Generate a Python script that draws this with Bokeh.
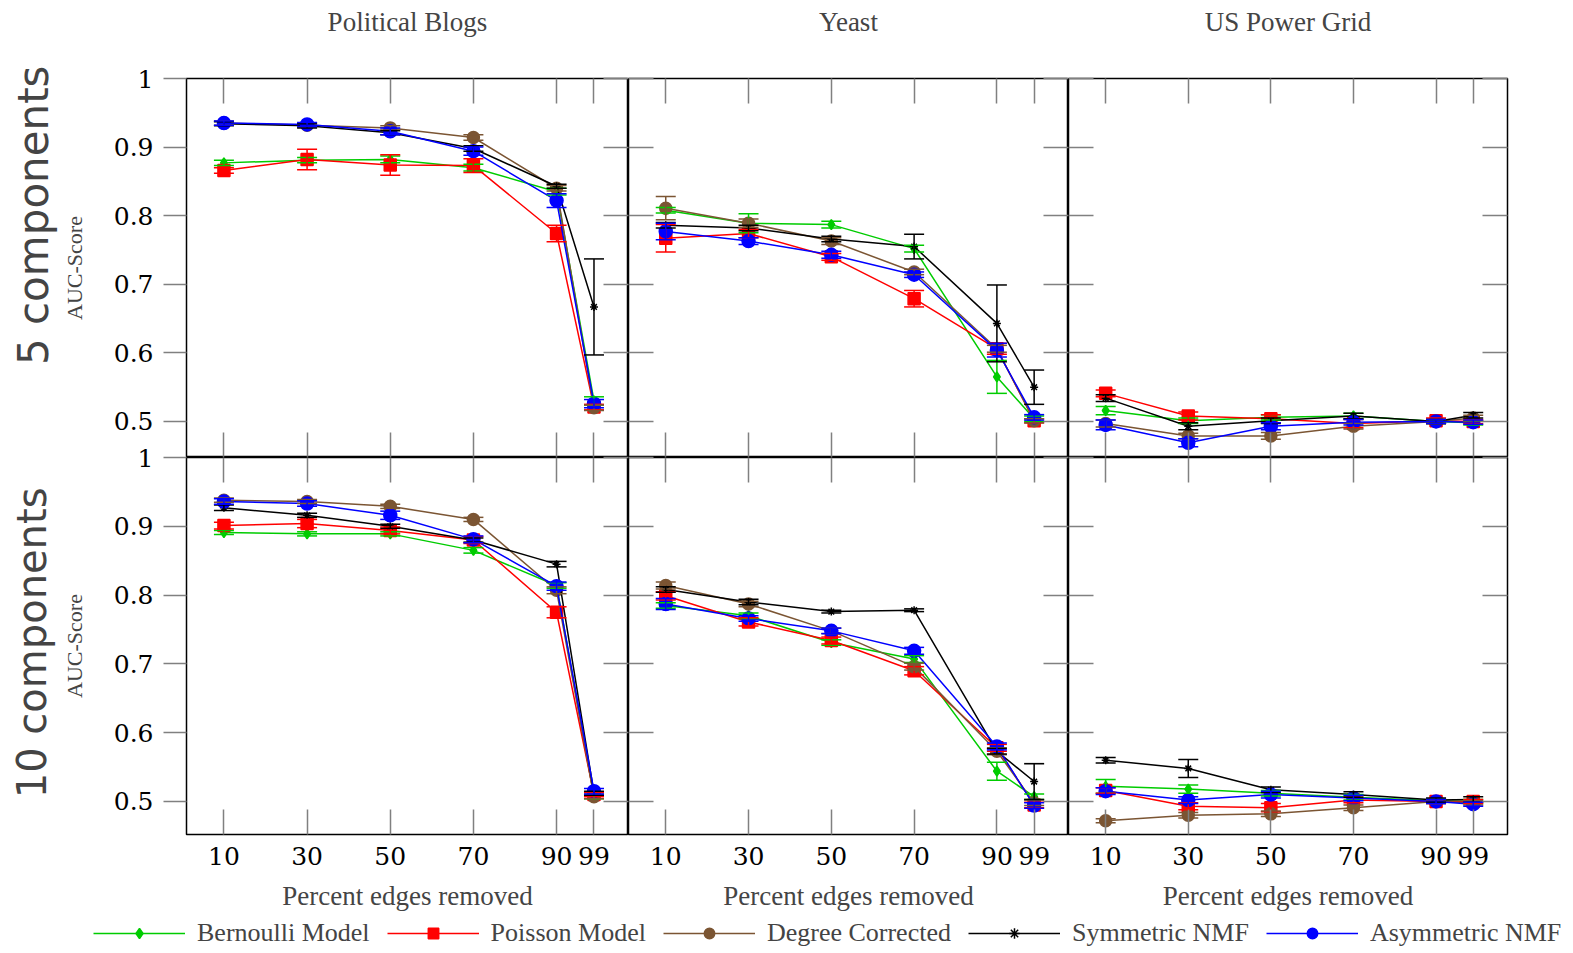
from bokeh.plotting import figure
from bokeh.models import (ColumnDataSource, Whisker, TeeHead, LinearAxis, FixedTicker,
                          Title, Legend, LegendItem, Range1d)
from bokeh.layouts import row, column
from bokeh.embed import file_html
from bokeh.resources import INLINE

# ---------------- data ----------------
pct_removed = [10, 30, 50, 70, 90, 99]
x_ticks = [10, 30, 50, 70, 90, 99]
y_ticks = [0.5, 0.6, 0.7, 0.8, 0.9, 1.0]
y_tick_labels = ["0.5", "0.6", "0.7", "0.8", "0.9", "1"]
datasets = ["Political Blogs", "Yeast", "US Power Grid"]
row_labels = ["5 components", "10 components"]
models = ["Bernoulli Model", "Poisson Model", "Degree Corrected", "Symmetric NMF", "Asymmetric NMF"]

# 5 components - Political Blogs
pb5_bern = [0.877, 0.881, 0.882, 0.870, 0.835, 0.530]
pb5_pois = [0.866, 0.882, 0.874, 0.873, 0.774, 0.521]
pb5_degr = [0.935, 0.932, 0.928, 0.914, 0.840, 0.520]
pb5_symm = [0.934, 0.931, 0.921, 0.898, 0.843, 0.667]
pb5_asym = [0.935, 0.933, 0.923, 0.894, 0.822, 0.526]
pb5_bern_err = [0.004, 0.004, 0.005, 0.005, 0.005, 0.006]
pb5_pois_err = [0.004, 0.015, 0.015, 0.010, 0.012, 0.004]
pb5_degr_err = [0.003, 0.003, 0.003, 0.004, 0.004, 0.004]
pb5_symm_err = [0.003, 0.003, 0.003, 0.004, 0.003, 0.070]
pb5_asym_err = [0.003, 0.003, 0.005, 0.006, 0.010, 0.006]

# 5 components - Yeast
ye5_bern = [0.808, 0.789, 0.787, 0.752, 0.565, 0.504]
ye5_pois = [0.767, 0.774, 0.740, 0.679, 0.606, 0.501]
ye5_degr = [0.811, 0.789, 0.763, 0.718, 0.606, 0.501]
ye5_symm = [0.786, 0.782, 0.766, 0.755, 0.643, 0.550]
ye5_asym = [0.777, 0.763, 0.743, 0.714, 0.604, 0.506]
ye5_bern_err = [0.004, 0.014, 0.005, 0.005, 0.024, 0.004]
ye5_pois_err = [0.020, 0.006, 0.005, 0.012, 0.008, 0.003]
ye5_degr_err = [0.017, 0.006, 0.005, 0.004, 0.005, 0.003]
ye5_symm_err = [0.004, 0.004, 0.004, 0.018, 0.056, 0.025]
ye5_asym_err = [0.012, 0.005, 0.005, 0.004, 0.010, 0.004]

# 5 components - US Power Grid
pg5_bern = [0.516, 0.501, 0.506, 0.508, 0.500, 0.498]
pg5_pois = [0.541, 0.508, 0.504, 0.497, 0.501, 0.500]
pg5_degr = [0.497, 0.479, 0.479, 0.493, 0.500, 0.505]
pg5_symm = [0.534, 0.493, 0.501, 0.508, 0.500, 0.509]
pg5_asym = [0.495, 0.469, 0.493, 0.499, 0.500, 0.499]
pg5_bern_err = [0.006, 0.004, 0.004, 0.004, 0.003, 0.003]
pg5_pois_err = [0.005, 0.006, 0.006, 0.006, 0.004, 0.003]
pg5_degr_err = [0.005, 0.004, 0.005, 0.004, 0.003, 0.004]
pg5_symm_err = [0.005, 0.005, 0.004, 0.004, 0.003, 0.004]
pg5_asym_err = [0.007, 0.006, 0.005, 0.004, 0.003, 0.003]

# 10 components - Political Blogs
pb10_bern = [0.891, 0.889, 0.889, 0.865, 0.814, 0.507]
pb10_pois = [0.901, 0.904, 0.894, 0.880, 0.775, 0.510]
pb10_degr = [0.938, 0.936, 0.929, 0.910, 0.807, 0.507]
pb10_symm = [0.927, 0.916, 0.900, 0.880, 0.845, 0.512]
pb10_asym = [0.936, 0.933, 0.916, 0.881, 0.813, 0.515]
pb10_bern_err = [0.003, 0.003, 0.003, 0.004, 0.004, 0.003]
pb10_pois_err = [0.005, 0.006, 0.005, 0.005, 0.008, 0.003]
pb10_degr_err = [0.003, 0.003, 0.003, 0.003, 0.005, 0.003]
pb10_symm_err = [0.004, 0.003, 0.003, 0.003, 0.004, 0.003]
pb10_asym_err = [0.004, 0.004, 0.006, 0.005, 0.006, 0.004]

# 10 components - Yeast
ye10_bern = [0.785, 0.770, 0.731, 0.707, 0.544, 0.507]
ye10_pois = [0.799, 0.761, 0.734, 0.690, 0.578, 0.495]
ye10_degr = [0.814, 0.787, 0.748, 0.696, 0.573, 0.498]
ye10_symm = [0.808, 0.790, 0.776, 0.778, 0.573, 0.529]
ye10_asym = [0.787, 0.766, 0.748, 0.719, 0.580, 0.494]
ye10_bern_err = [0.004, 0.004, 0.004, 0.005, 0.013, 0.004]
ye10_pois_err = [0.006, 0.006, 0.005, 0.006, 0.005, 0.004]
ye10_degr_err = [0.005, 0.004, 0.004, 0.005, 0.005, 0.004]
ye10_symm_err = [0.004, 0.004, 0.002, 0.002, 0.004, 0.026]
ye10_asym_err = [0.008, 0.004, 0.004, 0.005, 0.005, 0.004]

# 10 components - US Power Grid
pg10_bern = [0.522, 0.518, 0.512, 0.506, 0.501, 0.500]
pg10_pois = [0.516, 0.493, 0.491, 0.502, 0.500, 0.500]
pg10_degr = [0.472, 0.480, 0.482, 0.491, 0.500, 0.498]
pg10_symm = [0.560, 0.548, 0.517, 0.510, 0.502, 0.503]
pg10_asym = [0.515, 0.502, 0.510, 0.505, 0.500, 0.496]
pg10_bern_err = [0.010, 0.006, 0.004, 0.004, 0.003, 0.003]
pg10_pois_err = [0.004, 0.005, 0.006, 0.004, 0.003, 0.003]
pg10_degr_err = [0.003, 0.004, 0.004, 0.004, 0.003, 0.003]
pg10_symm_err = [0.004, 0.013, 0.004, 0.004, 0.003, 0.004]
pg10_asym_err = [0.005, 0.005, 0.005, 0.004, 0.003, 0.003]

panel_data = [
    [
        ([pb5_bern, pb5_pois, pb5_degr, pb5_symm, pb5_asym],
         [pb5_bern_err, pb5_pois_err, pb5_degr_err, pb5_symm_err, pb5_asym_err]),
        ([ye5_bern, ye5_pois, ye5_degr, ye5_symm, ye5_asym],
         [ye5_bern_err, ye5_pois_err, ye5_degr_err, ye5_symm_err, ye5_asym_err]),
        ([pg5_bern, pg5_pois, pg5_degr, pg5_symm, pg5_asym],
         [pg5_bern_err, pg5_pois_err, pg5_degr_err, pg5_symm_err, pg5_asym_err]),
    ],
    [
        ([pb10_bern, pb10_pois, pb10_degr, pb10_symm, pb10_asym],
         [pb10_bern_err, pb10_pois_err, pb10_degr_err, pb10_symm_err, pb10_asym_err]),
        ([ye10_bern, ye10_pois, ye10_degr, ye10_symm, ye10_asym],
         [ye10_bern_err, ye10_pois_err, ye10_degr_err, ye10_symm_err, ye10_asym_err]),
        ([pg10_bern, pg10_pois, pg10_degr, pg10_symm, pg10_asym],
         [pg10_bern_err, pg10_pois_err, pg10_degr_err, pg10_symm_err, pg10_asym_err]),
    ],
]

# ---------------- styles ----------------
colors = ["#00cc00", "#ff0000", "#7b5533", "#000000", "#0000ff"]
markers = ["diamond", "square", "circle", "asterisk", "circle"]
marker_sizes = [10, 12, 12, 8, 13]

SERIF = "Liberation Serif"
NUM = "DejaVu Serif"
TICK_COLOR = "#808080"

OVERLAP = 16  # lower row canvas overlaps the upper row so the shared "1" label is not clipped
col_widths = [628, 440, 449]
col_border_left = [186, 0, 0]
col_border_right = [0, 0, 10]
row_heights = [457, 456 + OVERLAP]
row_border_top = [78, OVERLAP]
row_border_bottom = [0, 79]
row_ylo = [0.4475, 0.452]
row_label_sizes = ["42px", "40px"]
row_label_offsets = [-13, 30]
row_label_standoffs = [2, 8]


def hidden_axis(ticks, tick_in):
    return LinearAxis(ticker=FixedTicker(ticks=ticks), major_tick_in=tick_in, major_tick_out=0,
                      minor_tick_line_color=None, major_label_text_font_size="0px",
                      major_label_text_color=None,
                      major_label_standoff=0, axis_line_color=None,
                      major_tick_line_color=TICK_COLOR, major_tick_line_width=1.5)


def make_panel(r, c):
    p = figure(width=col_widths[c], height=row_heights[r],
               x_range=Range1d(1.0, 107.3), y_range=Range1d(row_ylo[r], 1.0),
               output_backend="svg", toolbar_location=None,
               x_axis_location=None, y_axis_location=None,
               min_border_left=col_border_left[c], min_border_right=col_border_right[c],
               min_border_top=row_border_top[r], min_border_bottom=row_border_bottom[r],
               outline_line_color="black", outline_line_width=1.5,
               background_fill_color="white",
               border_fill_color=None if r == 1 else "white")
    p.grid.grid_line_color = None

    # left axis
    if c == 0:
        ly = LinearAxis(ticker=FixedTicker(ticks=y_ticks), major_tick_in=0, major_tick_out=23,
                        minor_tick_line_color=None, axis_line_color=None,
                        major_tick_line_color=TICK_COLOR, major_tick_line_width=1.5,
                        major_label_standoff=10,
                        major_label_overrides=dict(zip(y_ticks, y_tick_labels)),
                        major_label_text_font=NUM, major_label_text_font_size="25px",
                        major_label_text_color="black",
                        axis_label="AUC-Score", axis_label_text_font=SERIF,
                        axis_label_text_font_size="22px", axis_label_text_font_style="normal",
                        axis_label_standoff=24)
        p.add_layout(ly, "left")
        p.add_layout(Title(text=row_labels[r], align="right", offset=row_label_offsets[r],
                           text_font="DejaVu Sans", text_font_size=row_label_sizes[r],
                           text_font_style="normal", standoff=row_label_standoffs[r]), "left")
    else:
        p.add_layout(hidden_axis(y_ticks, 25), "left")
    p.add_layout(hidden_axis(y_ticks, 25), "right")

    # top axis
    top = hidden_axis(x_ticks, 25)
    if r == 0:
        top.axis_label = datasets[c]
        top.axis_label_text_font = SERIF
        top.axis_label_text_font_size = "27px"
        top.axis_label_text_font_style = "normal"
        top.axis_label_standoff = 42
    p.add_layout(top, "above")

    # bottom axis
    if r == 1:
        bx = LinearAxis(ticker=FixedTicker(ticks=x_ticks), major_tick_in=25, major_tick_out=0,
                        minor_tick_line_color=None, axis_line_color=None,
                        major_tick_line_color=TICK_COLOR, major_tick_line_width=1.5,
                        major_label_standoff=12, major_label_text_font=NUM,
                        major_label_text_font_size="25px", major_label_text_color="black",
                        axis_label="Percent edges removed", axis_label_text_font=SERIF,
                        axis_label_text_font_size="27px", axis_label_text_font_style="normal",
                        axis_label_standoff=13)
        p.add_layout(bx, "below")
    else:
        p.add_layout(hidden_axis(x_ticks, 25), "below")

    vals, errs = panel_data[r][c]
    for k in range(len(models)):
        src = ColumnDataSource(dict(
            x=pct_removed, y=vals[k],
            lower=[v - e for v, e in zip(vals[k], errs[k])],
            upper=[v + e for v, e in zip(vals[k], errs[k])]))
        p.line("x", "y", source=src, line_color=colors[k], line_width=1.5)
        w = Whisker(source=src, base="x", lower="lower", upper="upper", dimension="height",
                    line_color=colors[k], line_width=1.5,
                    upper_head=TeeHead(size=20, line_color=colors[k], line_width=1.5),
                    lower_head=TeeHead(size=20, line_color=colors[k], line_width=1.5))
        w.level = "glyph"
        p.add_layout(w)
        p.scatter("x", "y", source=src, marker=markers[k], size=marker_sizes[k],
                  fill_color=colors[k], line_color=colors[k], line_width=1.5)
    return p


panels = [[make_panel(r, c) for c in range(3)] for r in range(2)]

# ---------------- legend ----------------
# legend renderers reuse the first panel's series, kept outside the visible y range
lg = figure(width=1573, height=40, x_range=Range1d(0, 110), y_range=Range1d(2, 3),
            output_backend="svg", toolbar_location=None,
            x_axis_location=None, y_axis_location=None,
            min_border_left=0, min_border_right=0, min_border_top=0, min_border_bottom=0,
            outline_line_color=None)
lg.grid.grid_line_color = None
items = []
first_vals = panel_data[0][0][0]
for k, name in enumerate(models):
    lr = lg.line(x=pct_removed, y=first_vals[k], line_color=colors[k], line_width=1.5)
    sr = lg.scatter(x=pct_removed, y=first_vals[k], marker=markers[k], size=marker_sizes[k],
                    fill_color=colors[k], line_color=colors[k], line_width=1.5)
    items.append(LegendItem(label=name, renderers=[lr, sr]))
legend = Legend(items=items, orientation="horizontal", location=(93, 5),
                glyph_width=92, glyph_height=26, label_standoff=12, spacing=17,
                padding=0, margin=0, border_line_color=None, background_fill_alpha=0,
                label_text_font=SERIF, label_text_font_size="26px")
lg.add_layout(legend, "center")

top_row = row(*panels[0])
bottom_row = row(*panels[1], margin=(-OVERLAP, 0, 0, 0))
layout = column(top_row, bottom_row, lg)
open("out.html", "w").write(file_html(layout, INLINE))
